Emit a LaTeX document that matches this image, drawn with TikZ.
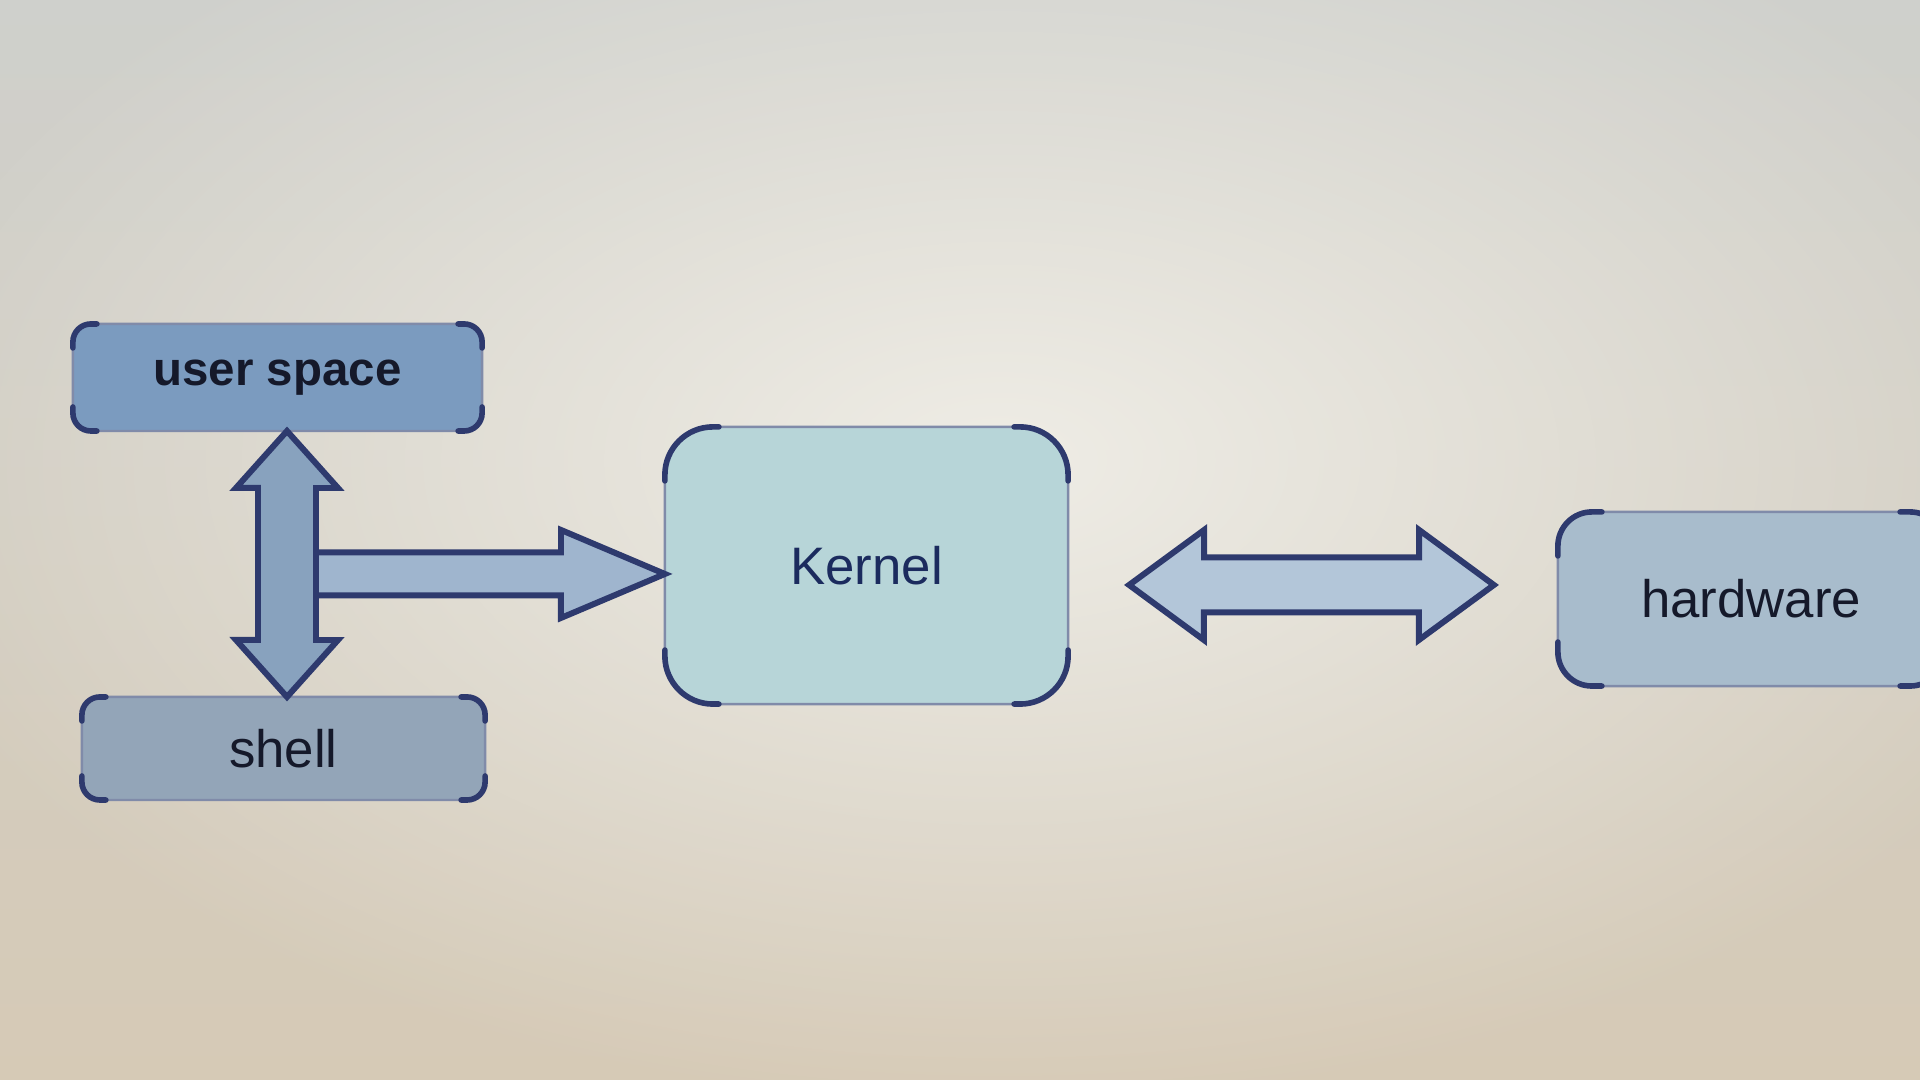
\documentclass[tikz,border=0pt]{standalone}
\usepackage{fontspec}
\setmainfont{Liberation Sans}
\usetikzlibrary{calc,fadings}
\definecolor{bgTop}{HTML}{CFD0CC}
\definecolor{bgBot}{HTML}{D6CAB6}
\definecolor{bgGlow}{HTML}{EFEDE6}
\definecolor{navy}{HTML}{2E3A6E}
\definecolor{edge}{HTML}{56658C}
\definecolor{usfill}{HTML}{7B9BBF}
\definecolor{shfill}{HTML}{93A5B8}
\definecolor{kfill}{HTML}{B7D5D8}
\definecolor{hwfill}{HTML}{A8BCCC}
\definecolor{varr}{HTML}{88A2BE}
\definecolor{harr}{HTML}{9FB5CE}
\definecolor{darr}{HTML}{B3C6D9}
\definecolor{ink}{HTML}{15192A}
\definecolor{kink}{HTML}{1B2B5E}
\tikzfading[name=glowfade, inner color=transparent!0, outer color=transparent!100]
\tikzset{
  box/.style={rectangle, outer sep=0pt, inner sep=0pt, draw=edge!75, line width=0.7pt},
  brk/.style={draw=navy, line width=1.6pt, line cap=round},
  blk/.style={draw=navy, line width=1.7pt, line join=miter},
  lbl/.style={font=\fontsize{15}{18}\selectfont, text=ink}
}
\newcommand\cornerbr[3]{%
  \draw[brk, rounded corners=#2] ($(#1.north west)+(0,-#3)$) -- (#1.north west) -- ($(#1.north west)+(#3,0)$);
  \draw[brk, rounded corners=#2] ($(#1.north east)+(-#3,0)$) -- (#1.north east) -- ($(#1.north east)+(0,-#3)$);
  \draw[brk, rounded corners=#2] ($(#1.south west)+(0,#3)$) -- (#1.south west) -- ($(#1.south west)+(#3,0)$);
  \draw[brk, rounded corners=#2] ($(#1.south east)+(-#3,0)$) -- (#1.south east) -- ($(#1.south east)+(0,#3)$);
}
\begin{document}
\begin{tikzpicture}[x=0.01cm,y=0.01cm]
\useasboundingbox (0,0) rectangle (1920,1080);
\clip (0,0) rectangle (1920,1080);
% background
\shade[top color=bgTop, bottom color=bgBot] (0,0) rectangle (1920,1080);
\fill[bgGlow, path fading=glowfade] (1000,620) ellipse [x radius=1150, y radius=650];

% nodes
\node[box, rounded corners=0.17cm, fill=usfill, minimum width=4.09cm, minimum height=1.07cm,
      font=\bfseries\fontsize{13.5}{16}\selectfont, text=ink] (us) at (277.5,702.5) {user space};
\node[box, rounded corners=0.17cm, fill=shfill, minimum width=4.03cm, minimum height=1.03cm, lbl] (sh) at (283.5,331.5) {shell};
\node[box, rounded corners=0.48cm, fill=kfill, minimum width=4.03cm, minimum height=2.77cm, lbl, text=kink] (k) at (866.5,514.5) {Kernel};
\node[box, rounded corners=0.34cm, fill=hwfill, minimum width=3.86cm, minimum height=1.74cm, lbl] (hw) at (1751,481) {hardware};

\cornerbr{us}{0.18cm}{24}
\cornerbr{sh}{0.18cm}{24}
\cornerbr{k}{0.48cm}{54}
\cornerbr{hw}{0.34cm}{44}

% connector end points
\coordinate (hs) at (300,506);
\coordinate (ht) at ($(k.west)+(0,-8.5)$);
\coordinate (vt) at ($(us.south)+(9.5,0)$);
\coordinate (vb) at ($(sh.north)+(3.5,0)$);
\coordinate (dl) at ($(k.east)+(61,-19.5)$);
\coordinate (dr) at ($(hw.west)+(-64,14)$);

% horizontal arrow to kernel
\draw[blk, fill=harr] ($(hs)+(0,21.5)$) -- ++(261,0) -- ++(0,22.5) -- (ht) -- ++(-104,-44) -- ++(0,22.5) -- ++(-261,0) -- cycle;
% vertical double arrow user space <-> shell
\draw[blk, fill=varr] (vt) -- ++(51,-57) -- ++(-22,0) -- ++(0,-152) -- ++(22,0) -- (vb)
      -- ++(-51,57) -- ++(22,0) -- ++(0,152) -- ++(-22,0) -- cycle;
% double arrow kernel <-> hardware
\draw[blk, fill=darr] (dl) -- ++(75,55) -- ++(0,-27.5) -- ++(215,0) -- ++(0,27.5) -- (dr)
      -- ++(-75,-55) -- ++(0,27.5) -- ++(-215,0) -- ++(0,-27.5) -- cycle;
\end{tikzpicture}
\end{document}
